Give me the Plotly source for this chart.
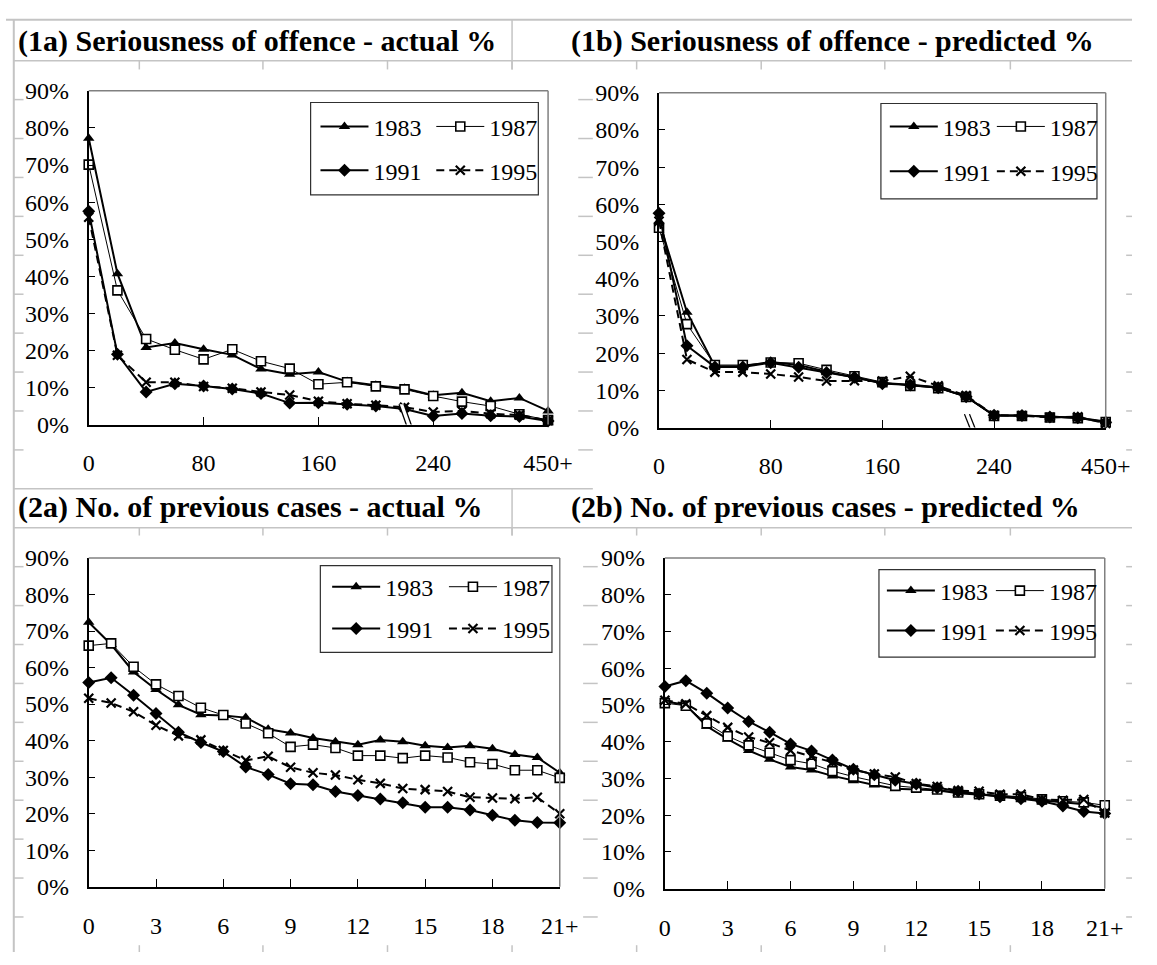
import plotly.graph_objects as go

# ---------------- data ----------------
cats_serious = ["0", "20", "40", "60", "80", "100", "120", "140", "160", "180", "200",
                "220", "240", "260", "280", "300", "450+"]
ticks_serious = ["0", "80", "160", "240", "450+"]

cats_prev = [str(i) for i in range(21)] + ["21+"]
ticks_prev = ["0", "3", "6", "9", "12", "15", "18", "21+"]

years = ["1983", "1987", "1991", "1995"]

# (1a) Seriousness of offence - actual %
a1_1983 = [77.2, 40.7, 20.8, 22.0, 20.3, 18.8, 15.0, 13.6, 14.2, 11.6, 10.6, 9.8, 7.9, 8.6, 6.3, 7.2, 3.7]
a1_1987 = [70.1, 36.2, 23.1, 20.2, 17.6, 20.3, 17.1, 15.1, 10.9, 11.4, 10.3, 9.5, 7.7, 6.2, 5.0, 2.8, 1.2]
a1_1991 = [57.5, 19.0, 8.8, 11.0, 10.4, 9.6, 8.4, 5.8, 5.9, 5.5, 5.0, 4.2, 2.3, 3.0, 2.4, 2.2, 1.0]
a1_1995 = [55.9, 18.7, 11.4, 11.4, 10.3, 9.8, 8.8, 8.0, 6.3, 5.6, 5.2, 4.7, 3.4, 3.7, 2.9, 2.6, 1.1]

# (1b) Seriousness of offence - predicted %
b1_1983 = [55.5, 31.0, 16.5, 16.5, 17.6, 16.8, 15.0, 13.6, 12.0, 11.5, 10.8, 8.3, 3.2, 3.2, 2.8, 2.6, 1.6]
b1_1987 = [53.7, 27.8, 16.8, 16.8, 17.5, 17.3, 15.5, 13.8, 12.2, 11.2, 10.6, 8.2, 3.1, 3.1, 2.7, 2.5, 1.5]
b1_1991 = [57.6, 22.0, 16.3, 16.3, 17.4, 16.2, 14.8, 13.5, 11.8, 11.4, 10.7, 8.3, 3.3, 3.2, 2.8, 2.6, 1.4]
b1_1995 = [55.5, 18.3, 14.9, 14.9, 14.4, 13.6, 12.5, 12.6, 12.5, 13.8, 11.2, 8.6, 3.3, 3.2, 2.7, 2.9, 1.1]

# (2a) No. of previous cases - actual %
a2_1983 = [72.4, 66.3, 58.8, 54.0, 49.8, 47.1, 46.9, 46.3, 43.1, 42.1, 40.7, 39.7, 38.9, 40.2,
           39.7, 38.6, 38.1, 38.6, 37.8, 36.2, 35.4, 31.2]
a2_1987 = [66.0, 66.6, 60.2, 55.4, 52.2, 49.0, 47.0, 44.7, 42.0, 38.3, 38.9, 38.0, 35.9, 35.9,
           35.2, 35.9, 35.4, 34.1, 33.6, 31.9, 31.9, 29.8]
a2_1991 = [55.9, 57.2, 52.4, 47.4, 42.3, 39.5, 37.0, 32.8, 30.7, 28.2, 27.9, 26.1, 25.0, 24.0,
           23.0, 21.8, 21.8, 21.0, 19.6, 18.2, 17.6, 17.5]
a2_1995 = [51.6, 50.3, 47.9, 44.2, 41.3, 40.2, 37.3, 34.6, 35.7, 32.7, 31.2, 30.6, 29.3, 28.3,
           26.9, 26.6, 26.1, 24.5, 24.3, 24.1, 24.5, 20.0]

# (2b) No. of previous cases - predicted %
b2_1983 = [51.0, 50.0, 44.2, 40.7, 37.6, 35.2, 33.1, 32.3, 30.7, 29.4, 28.2, 27.2, 27.0, 26.8,
           26.0, 25.5, 25.2, 24.8, 24.0, 23.5, 23.0, 22.0]
b2_1987 = [50.5, 49.8, 45.0, 41.5, 39.0, 37.0, 35.0, 34.0, 32.0, 30.5, 29.2, 28.0, 27.5, 27.0,
           26.2, 25.7, 25.3, 25.0, 24.3, 23.8, 23.5, 22.7]
b2_1991 = [55.0, 56.6, 53.2, 49.2, 45.5, 42.6, 39.4, 37.5, 35.0, 32.5, 31.0, 29.5, 28.5, 27.5,
           26.5, 25.8, 25.0, 24.5, 23.8, 22.5, 21.0, 20.5]
b2_1995 = [51.3, 50.3, 47.1, 43.9, 41.3, 39.7, 37.6, 36.0, 34.4, 32.3, 31.2, 30.4, 28.6, 27.8,
           26.7, 26.5, 25.7, 25.7, 24.3, 24.1, 24.3, 20.6]

titles = ["(1a) Seriousness of offence - actual %",
          "(1b) Seriousness of offence - predicted %",
          "(2a) No. of previous cases - actual %",
          "(2b) No. of previous cases - predicted %"]

y_ticks = [0, 10, 20, 30, 40, 50, 60, 70, 80, 90]
y_ticktext = [f"{v}%" for v in y_ticks]

# ---------------- layout helpers ----------------
W, H = 1157, 965
FONT = "Liberation Serif"
GRID = "#c4c4c4"


def px(x):
    return x / W


def py(y):
    return 1 - y / H


styles = {
    "1983": dict(line=dict(color="black", width=2),
                 marker=dict(symbol="triangle-up", size=10, color="black")),
    "1987": dict(line=dict(color="black", width=1),
                 marker=dict(symbol="square", size=9, color="white",
                             line=dict(color="black", width=1.6))),
    "1991": dict(line=dict(color="black", width=2),
                 marker=dict(symbol="diamond", size=10, color="black")),
    "1995": dict(line=dict(color="black", width=2, dash="8px,5px"),
                 marker=dict(symbol="x-thin-open", size=9, color="black",
                             line=dict(color="black", width=2.2))),
}

# panel geometry in pixels: plot left, right, top(90%), bottom(0%)
panels = [
    dict(l=85, r=557, t=80, b=423, cats=cats_serious, ticks=ticks_serious,
         data=[a1_1983, a1_1987, a1_1991, a1_1995],
         leg_x=[318, 437], leg_y=[117, 162], box=(313, 92, 547, 187),
         title_xy=(10, 29)),
    dict(l=671, r=1130, t=82, b=426, cats=cats_serious, ticks=ticks_serious,
         data=[b1_1983, b1_1987, b1_1991, b1_1995],
         leg_x=[903, 1013], leg_y=[117, 163], box=(899, 93, 1121, 191),
         title_xy=(579, 29)),
    dict(l=85, r=569, t=560, b=898, cats=cats_prev, ticks=ticks_prev,
         data=[a2_1983, a2_1987, a2_1991, a2_1995],
         leg_x=[330, 450], leg_y=[590, 633], box=(323, 568, 561, 657),
         title_xy=(10, 508)),
    dict(l=677, r=1129, t=560, b=900, cats=cats_prev, ticks=ticks_prev,
         data=[b2_1983, b2_1987, b2_1991, b2_1995],
         leg_x=[900, 1012], leg_y=[594, 635], box=(897, 572, 1119, 662),
         title_xy=(579, 508)),
]

fig = go.Figure()
layout = dict(width=W, height=H, autosize=False,
              margin=dict(l=0, r=0, t=0, b=0),
              paper_bgcolor="white", plot_bgcolor="white",
              font=dict(family=FONT, color="black"),
              showlegend=True, shapes=[], annotations=[])

leg_n = 0
for i, p in enumerate(panels):
    sfx = "" if i == 0 else str(i + 1)
    xa, ya = "x" + sfx, "y" + sfx
    layout["xaxis" + sfx] = dict(
        domain=[px(p["l"]), px(p["r"])], anchor=ya, type="category",
        categoryorder="array", categoryarray=p["cats"],
        range=[0, len(p["cats"]) - 1],
        tickmode="array", tickvals=p["ticks"], ticktext=p["ticks"],
        ticks="inside", ticklen=8, tickwidth=1, tickcolor="black",
        showline=True, linecolor="black", linewidth=2,
        showgrid=False, zeroline=False, fixedrange=True,
        tickfont=dict(family=FONT, size=24, color="black"),
        ticklabelstandoff=16)
    layout["yaxis" + sfx] = dict(
        domain=[py(p["b"]), py(p["t"])], anchor=xa,
        range=[0, 90], tickmode="array", tickvals=y_ticks, ticktext=y_ticktext,
        ticks="inside", ticklen=6, tickwidth=1, tickcolor="black",
        showline=True, linecolor="black", linewidth=2,
        showgrid=False, zeroline=False, fixedrange=True,
        tickfont=dict(family=FONT, size=24, color="black"),
        ticklabelstandoff=13)

    for k, (yr, vals) in enumerate(zip(years, p["data"])):
        leg_n += 1
        lname = "legend" if leg_n == 1 else f"legend{leg_n}"
        st = styles[yr]
        fig.add_trace(go.Scatter(
            x=p["cats"], y=vals, xaxis=xa, yaxis=ya, name=yr,
            mode="lines+markers", line=st["line"], marker=st["marker"],
            cliponaxis=False, legend=lname, hoverinfo="skip"))
        row, col = divmod(k, 2)
        layout[lname] = dict(
            x=px(p["leg_x"][col]), y=py(p["leg_y"][row]),
            xanchor="left", yanchor="middle", xref="paper", yref="paper",
            bgcolor="rgba(0,0,0,0)", borderwidth=0, itemwidth=48,
            font=dict(family=FONT, size=24, color="black"),
            itemclick=False, itemdoubleclick=False)

    # gray top/right frame of plot area
    layout["shapes"].append(dict(type="line", xref="paper", yref="paper",
                                 x0=px(p["l"]), x1=px(p["r"]), y0=py(p["t"]), y1=py(p["t"]),
                                 line=dict(color="#808080", width=1.5)))
    layout["shapes"].append(dict(type="line", xref="paper", yref="paper",
                                 x0=px(p["r"]), x1=px(p["r"]), y0=py(p["t"]), y1=py(p["b"]),
                                 line=dict(color="#808080", width=1.5)))
    # legend box
    bx0, by0, bx1, by1 = p["box"]
    layout["shapes"].append(dict(type="rect", xref="paper", yref="paper",
                                 x0=px(bx0), x1=px(bx1), y0=py(by0), y1=py(by1),
                                 line=dict(color="#303030", width=1.2), fillcolor="rgba(0,0,0,0)"))
    # panel title
    tx, ty = p["title_xy"]
    layout["annotations"].append(dict(
        text="<b>" + titles[i] + "</b>", xref="paper", yref="paper", x=px(tx), y=py(ty),
        xanchor="left", yanchor="middle", showarrow=False,
        font=dict(family=FONT, size=30, color="black")))

# axis-break marks on the seriousness panels  (x in category index, y in %)
for xa, ya, segs in [
    ("x", "y", [((10.81, 5.5), (11.12, -1.3)), ((10.98, 5.5), (11.29, -1.3))]),
    ("x2", "y2", [((10.94, 3.6), (11.22, -1.7)), ((11.12, 3.6), (11.40, -1.7))]),
]:
    (a0, a1), (b0, b1) = segs
    layout["shapes"].append(dict(
        type="path", xref=xa, yref=ya, layer="above",
        path=f"M{a0[0]},{a0[1]} L{a1[0]},{a1[1]} L{b1[0]},{b1[1]} L{b0[0]},{b0[1]} Z",
        fillcolor="white", line=dict(width=0)))
    for s0, s1 in segs:
        layout["shapes"].append(dict(type="line", xref=xa, yref=ya, layer="above",
                                     x0=s0[0], y0=s0[1], x1=s1[0], y1=s1[1],
                                     line=dict(color="black", width=1.3)))


# ---------------- spreadsheet grid remnants ----------------
def gline(x0, y0, x1, y1, w=1.5):
    layout["shapes"].append(dict(type="line", xref="paper", yref="paper", layer="below",
                                 x0=px(x0), y0=py(y0), x1=px(x1), y1=py(y1),
                                 line=dict(color=GRID, width=w)))


cols = [137, 264, 392, 520, 648, 776, 903, 1032]
gline(0, 7, W, 7, 2)
gline(8, 7, 8, H, 2)
gline(8, 49, W, 49)
gline(520, 7, 520, 58)
for c in cols:
    gline(c, 49, c, 58)
gline(8, 489, 603, 489)
gline(520, 489, 520, 537)
gline(8, 529, W, 529)
for c in cols:
    gline(c, 529, c, 537)
    gline(c, 958, c, H)
rows_top = [89 + 40 * k for k in range(10)]
rows_bot = [569 + 40 * k for k in range(10)]
for r in rows_top:
    gline(8, r, 18, r)
    gline(588, r, 603, r)
for r in rows_bot:
    gline(8, r, 18, r)
    gline(593, r, 608, r)
    gline(1151, r, W, r)
for r in rows_top[3:]:
    gline(1151, r, W, r)

fig.update_layout(**layout)
fig.write_html("out.html")
